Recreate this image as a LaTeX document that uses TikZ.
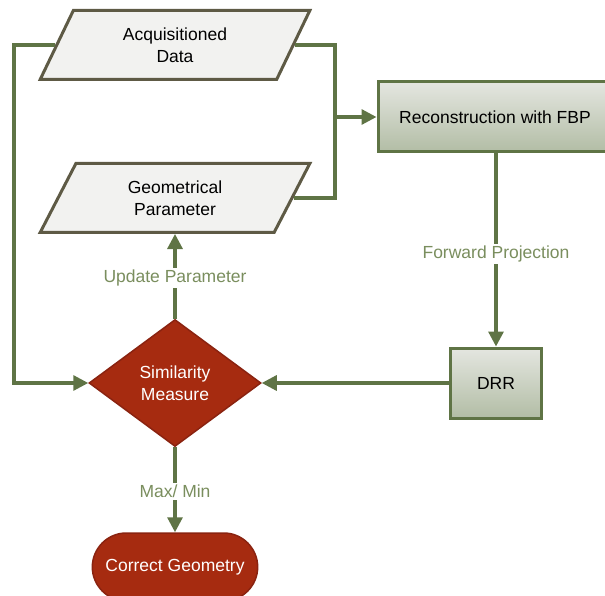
\documentclass[tikz,border=0pt]{standalone}
\usepackage{fontspec}
\setmainfont{Liberation Sans}
\usetikzlibrary{shapes.geometric, shapes.misc, arrows.meta}
\definecolor{flowgreen}{HTML}{5F7445}
\definecolor{labelgreen}{HTML}{7A8E5E}
\definecolor{databorder}{HTML}{5E5A45}
\definecolor{datafill}{HTML}{F2F2F0}
\definecolor{boxtop}{HTML}{E4E6E0}
\definecolor{boxbottom}{HTML}{B2BDA5}
\definecolor{simred}{HTML}{A62B10}
\definecolor{simborder}{HTML}{8A2310}
\begin{document}
\begin{tikzpicture}[x=1pt, y=-1pt, font=\fontsize{17.5}{22}\selectfont,
  datanode/.style={trapezium, trapezium left angle=64, trapezium right angle=116,
    trapezium stretches=true, minimum width=270, minimum height=69, inner sep=0pt,
    draw=databorder, line width=3pt, fill=datafill, align=center},
  procbox/.style={rectangle, draw=flowgreen, line width=3pt, top color=boxtop,
    bottom color=boxbottom, minimum height=70, inner sep=0pt},
  flow/.style={draw=flowgreen, line width=3.2pt},
  arr/.style={flow, -{Triangle[length=15pt, width=15pt]}},
  steplabel/.style={fill=white, text=labelgreen, inner sep=2pt}]
\useasboundingbox (0,0) rectangle (605,596);
\clip (0,0) rectangle (605,596);
% Inputs
\node[datanode] (acq) at (175,45) {Acquisitioned\\Data};
\node[datanode] (geo) at (175,198) {Geometrical\\Parameter};
% Processing
\node[procbox, minimum width=234] (rec) at (495,117) {Reconstruction with FBP};
\node[procbox, minimum width=91] (drr) at (496,383) {DRR};
\node[diamond, draw=simborder, line width=1.5pt, fill=simred, text=white,
  minimum width=172, minimum height=127, inner sep=0pt, align=center]
  (sim) at (175,383) {Similarity\\Measure};
\node[rounded rectangle, draw=simborder, line width=1.5pt, fill=simred, text=white,
  minimum width=172, minimum height=68] (res) at (175,567) {Correct Geometry};

% Connectors
\coordinate (lft) at (14,45);
\coordinate (rgt) at (335,117);
\draw[arr] (acq.left side) -- (lft) |- (sim.west);
\draw[flow] (acq.right side) -| (rgt) |- (geo.right side);
\draw[arr] (rgt) -- (rec.west);
\draw[arr] (rec.south -| drr.north) -- (drr.north)
  node[steplabel, pos=0.52] {Forward Projection};
\draw[arr] (drr.west) -- (sim.east);
\draw[arr] (sim.north) -- (sim.north |- geo.bottom side)
  node[steplabel, pos=0.48] {Update Parameter};
\draw[arr] (sim.south) -- (res.north)
  node[steplabel, pos=0.52] {Max/ Min};
\end{tikzpicture}
\end{document}
